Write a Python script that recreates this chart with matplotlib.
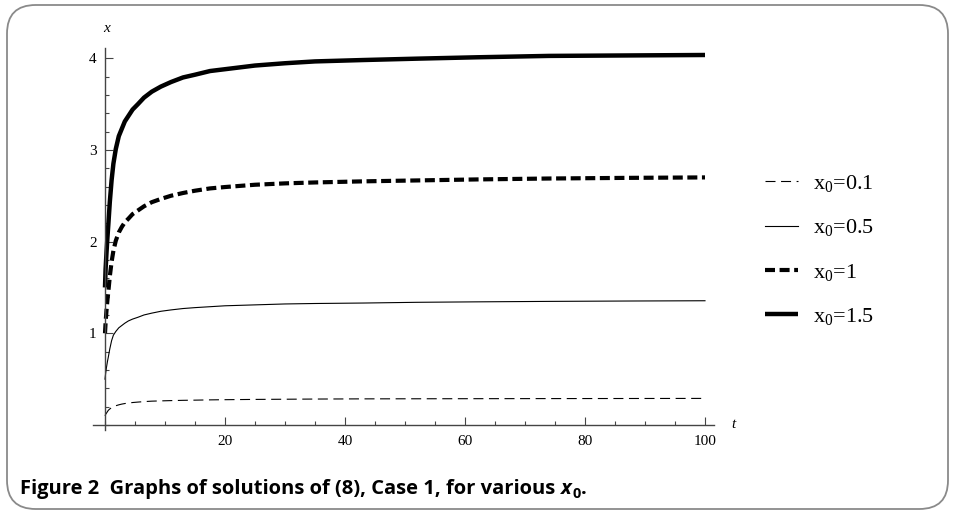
import matplotlib
matplotlib.use("Agg")
import matplotlib.pyplot as plt
from matplotlib.patches import FancyBboxPatch
from matplotlib.ticker import MultipleLocator, FixedLocator

plt.rcParams['mathtext.fontset'] = 'custom'
plt.rcParams['mathtext.rm'] = 'Liberation Serif'
plt.rcParams['mathtext.it'] = 'Liberation Serif:italic'

# ---- data ----
t = [0, 0.1, 0.25, 0.4, 0.55, 0.8, 1.1, 1.4, 1.8, 2.3, 2.8, 3.3, 3.9, 4.6, 5.5, 6.5,
     7.8, 9.3, 11, 13, 15, 17.5, 20, 25, 30, 35, 43, 52, 62, 74, 87, 100]
x_01 = [0.10, 0.115, 0.13, 0.145, 0.16, 0.175, 0.19, 0.20, 0.21, 0.22, 0.228, 0.234, 0.24, 0.245,
        0.25, 0.255, 0.26, 0.263, 0.266, 0.269, 0.271, 0.274, 0.276, 0.279, 0.281, 0.283, 0.285,
        0.286, 0.287, 0.288, 0.289, 0.29]
x_05 = [0.50, 0.56, 0.63, 0.69, 0.74, 0.83, 0.92, 0.98, 1.02, 1.06, 1.085, 1.11, 1.135, 1.155,
        1.175, 1.20, 1.22, 1.24, 1.255, 1.27, 1.28, 1.29, 1.30, 1.31, 1.32, 1.325, 1.33, 1.338,
        1.343, 1.348, 1.352, 1.355]
x_10 = [1.00, 1.12, 1.25, 1.36, 1.45, 1.62, 1.78, 1.90, 2.01, 2.10, 2.16, 2.21, 2.25, 2.30,
        2.34, 2.385, 2.43, 2.465, 2.50, 2.53, 2.555, 2.58, 2.595, 2.62, 2.635, 2.645, 2.657,
        2.667, 2.678, 2.688, 2.695, 2.70]
x_15 = [1.50, 1.70, 1.88, 2.04, 2.18, 2.43, 2.67, 2.85, 3.01, 3.15, 3.23, 3.31, 3.37, 3.44,
        3.50, 3.57, 3.635, 3.69, 3.74, 3.79, 3.82, 3.86, 3.88, 3.92, 3.945, 3.965, 3.98,
        3.995, 4.01, 4.025, 4.03, 4.035]
labels = [r"x$_0$=0.1", r"x$_0$=0.5", r"x$_0$=1", r"x$_0$=1.5"]
x_ticks = [20, 40, 60, 80, 100]
y_ticks = [1, 2, 3, 4]
caption = "Figure 2  Graphs of solutions of (8), Case 1, for various "

W, H = 955, 514
fig = plt.figure(figsize=(W / 100, H / 100), dpi=100)

# axes placement in pixels
xmin, xmax = -2, 101.5
ymin, ymax = -0.05, 4.11
px_t0, px_per_t = 105, 6.0
py_y0, py_per_y = 425, 91.7
left_px = px_t0 + xmin * px_per_t
right_px = px_t0 + xmax * px_per_t
bot_px = py_y0 - ymin * py_per_y
top_px = py_y0 - ymax * py_per_y
ax = fig.add_axes([left_px / W, 1 - bot_px / H, (right_px - left_px) / W, (bot_px - top_px) / H])
ax.set_xlim(xmin, xmax)
ax.set_ylim(ymin, ymax)

serif = 'Liberation Serif'
l1, = ax.plot(t, x_01, color='black', lw=0.8, dashes=(9, 5))
l2, = ax.plot(t, x_05, color='black', lw=0.8)
l3, = ax.plot(t, x_10, color='black', lw=3.0, dashes=(2.4, 1.1))
l4, = ax.plot(t, x_15, color='black', lw=3.2, solid_capstyle='butt')
lines = [l1, l2, l3, l4]

axc = '#444444'
for s in ['top', 'right']:
    ax.spines[s].set_visible(False)
ax.spines['left'].set_position(('data', 0))
ax.spines['bottom'].set_position(('data', 0))
for s in ['left', 'bottom']:
    ax.spines[s].set_color(axc)
    ax.spines[s].set_linewidth(1.0)

ax.xaxis.set_major_locator(FixedLocator(x_ticks))
ax.xaxis.set_minor_locator(MultipleLocator(5))
ax.yaxis.set_major_locator(FixedLocator(y_ticks))
ax.yaxis.set_minor_locator(MultipleLocator(0.2))
ax.tick_params(which='both', direction='in', color=axc, width=0.8)
ax.tick_params(which='major', length=5.5)
ax.tick_params(which='minor', length=3)
ax.tick_params(axis='x', pad=7)
ax.tick_params(axis='y', pad=6)
ax.set_xticklabels([str(v) for v in x_ticks], fontfamily=serif, fontsize=11)
ax.set_yticklabels([str(v) for v in y_ticks], fontfamily=serif, fontsize=11)

fig.text(107 / W, 1 - 28 / H, 'x', fontfamily=serif, style='italic', fontsize=11, ha='center', va='center')
fig.text(733 / W, 1 - 425 / H, 't', fontfamily=serif, style='italic', fontsize=11, ha='center', va='center')

leg = fig.legend(lines, labels, loc='center left', bbox_to_anchor=(745 / W, 1 - 250 / H),
                 frameon=False, prop={'family': serif, 'size': 16},
                 handlelength=1.5, handletextpad=0.65, labelspacing=1.05)

# rounded border
border = FancyBboxPatch((7 / W, 5 / H), (W - 14) / W, (H - 10) / H,
                        boxstyle="round,pad=0,rounding_size=0.03",
                        transform=fig.transFigure, fill=False, edgecolor='#8a8a8a', lw=1.3,
                        mutation_aspect=W / H)
fig.patches.append(border)

# caption
cap_font = 'Open Sans'
cap_size = 14.5
cap_w = 'bold'
cy = 1 - 494 / H
ct = fig.text(20 / W, cy, caption, fontfamily=cap_font, fontweight=cap_w, fontsize=cap_size, va='baseline')
fig.canvas.draw()
r = fig.canvas.get_renderer()
bb = ct.get_window_extent(r)
tx = fig.text(bb.x1 / W, cy, 'x', fontfamily=cap_font, fontweight=cap_w, style='italic', fontsize=cap_size, va='baseline')
bb2 = tx.get_window_extent(r)
ts = fig.text(bb2.x1 / W + 0.001, cy - 4 / H, '0', fontfamily=cap_font, fontweight=cap_w, fontsize=cap_size * 0.72, va='baseline')
bb3 = ts.get_window_extent(r)
fig.text(bb3.x1 / W + 0.001, cy, '.', fontfamily=cap_font, fontweight=cap_w, fontsize=cap_size, va='baseline')

fig.savefig('out.png', dpi=100)
